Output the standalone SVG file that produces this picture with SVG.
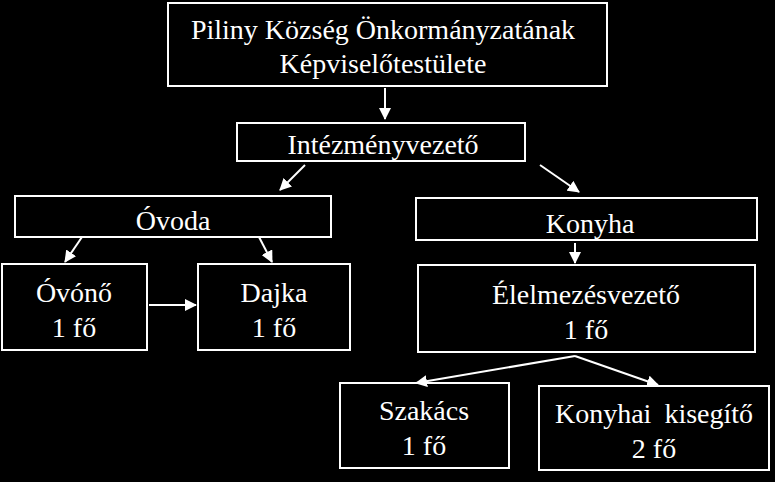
<svg xmlns="http://www.w3.org/2000/svg" width="775" height="482" viewBox="0 0 775 482">
<style>
.b{fill:#000;stroke:#fff;stroke-width:2}
text{fill:#fff;font-family:"Liberation Serif",serif;font-size:28px;text-anchor:middle}
.c line{stroke:#fff;stroke-width:2;marker-end:url(#a)}
</style>
<defs><marker id="a" markerWidth="12" markerHeight="12" refX="11" refY="6" orient="auto" markerUnits="userSpaceOnUse"><path d="M0,0L12,6L0,12Z" fill="#fff"/></marker></defs>
<rect width="775" height="482" fill="#000"/>
<g id="n1"><rect class="b" x="168" y="3" width="439" height="83"/><text x="383" y="39">Piliny Község Önkormányzatának</text><text x="383" y="73">Képviselőtestülete</text></g>
<g id="n2"><rect class="b" x="237" y="123" width="288" height="38"/><text x="383" y="154">Intézményvezető</text></g>
<g id="n3"><rect class="b" x="15" y="196" width="316" height="41"/><text x="173" y="230">Óvoda</text></g>
<g id="n4"><rect class="b" x="416" y="198" width="341" height="42"/><text x="590" y="233">Konyha</text></g>
<g id="n5"><rect class="b" x="2" y="264" width="145" height="86"/><text x="74" y="302">Óvónő</text><text x="74" y="337">1 fő</text></g>
<g id="n6"><rect class="b" x="198" y="264" width="152" height="86"/><text x="274" y="302">Dajka</text><text x="274" y="337">1 fő</text></g>
<g id="n7"><rect class="b" x="418" y="265" width="337" height="87"/><text x="586" y="304">Élelmezésvezető</text><text x="586" y="339">1 fő</text></g>
<g id="n8"><rect class="b" x="340" y="383" width="169" height="85"/><text x="424" y="420">Szakács</text><text x="424" y="455">1 fő</text></g>
<g id="n9"><rect class="b" x="539" y="386" width="230" height="84"/><text x="654" y="423" word-spacing="6">Konyhai kisegítő</text><text x="654" y="458">2 fő</text></g>
<g class="c" id="connectors">
<line x1="385" y1="88" x2="385" y2="119"/>
<line x1="305" y1="165" x2="280" y2="190"/>
<line x1="540" y1="165" x2="579" y2="192"/>
<line x1="82" y1="237" x2="65" y2="262"/>
<line x1="259" y1="237" x2="272" y2="262"/>
<line x1="149" y1="305" x2="196" y2="305"/>
<line x1="575" y1="243" x2="575" y2="263"/>
<line x1="575" y1="356" x2="416" y2="383"/>
<line x1="575" y1="356" x2="658" y2="385"/>
</g>
</svg>
